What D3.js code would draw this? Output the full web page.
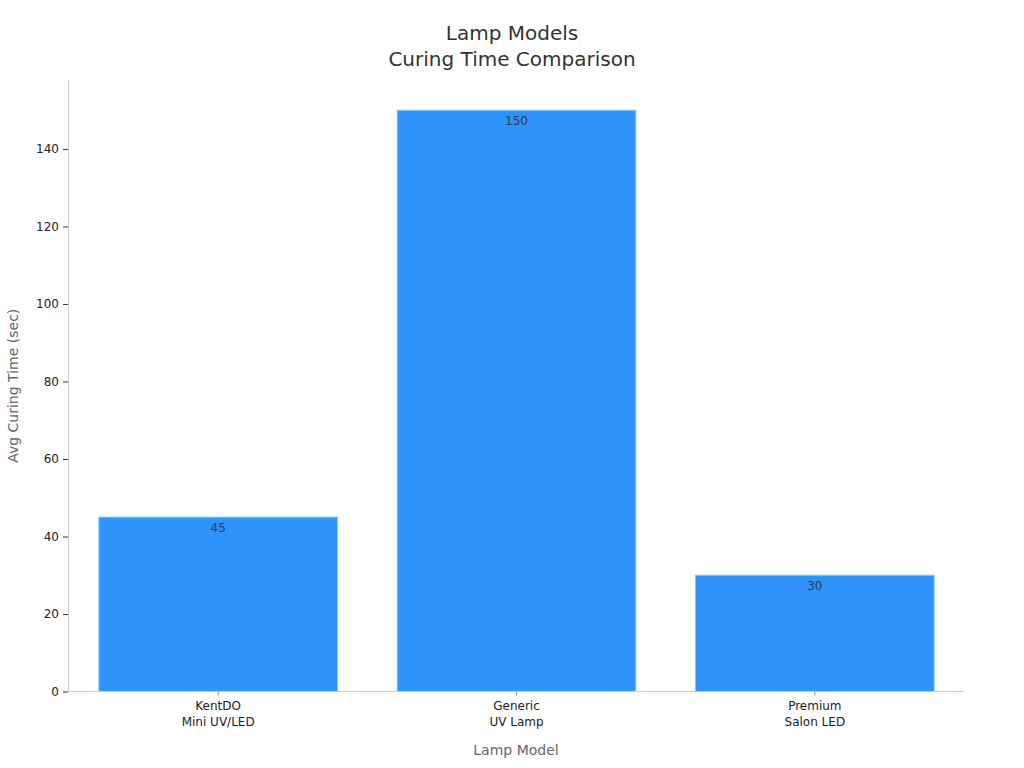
<!DOCTYPE html>
<html>
<head>
<meta charset="utf-8">
<script src="https://d3js.org/d3.v7.min.js"></script>
<style>
  body { margin: 0; background: #fff; font-family: "DejaVu Sans", sans-serif; }
  svg text { font-family: "DejaVu Sans", sans-serif; }
</style>
</head>
<body>
<svg id="chart" width="1024" height="768"></svg>
<script>
// chart data
var models = ["KentDO\nMini UV/LED", "Generic\nUV Lamp", "Premium\nSalon LED"];
var cureTimes = [45, 150, 30];
var yTicks = [0, 20, 40, 60, 80, 100, 120, 140];

var svg = d3.select("#chart");
// plot edges (note: "top" is reserved on window, so use other names)
var plotLeft = 68, plotRight = 964, plotTop = 80, plotBottom = 691.5;

var x = d3.scaleBand().domain(models).range([plotLeft + 1, plotRight]).paddingInner(0.2).paddingOuter(0.1);
var y = d3.scaleLinear().domain([0, 157.8]).range([plotBottom, plotTop]);

// title
svg.append("text").attr("x", 512).attr("y", 40).attr("text-anchor", "middle")
  .attr("font-size", 20).attr("fill", "#333").text("Lamp Models");
svg.append("text").attr("x", 512).attr("y", 66).attr("text-anchor", "middle")
  .attr("font-size", 20).attr("fill", "#333").text("Curing Time Comparison");

// bars
svg.append("g").selectAll("rect")
  .data(models)
  .enter().append("rect")
    .attr("x", function(d) { return x(d); })
    .attr("y", function(d, i) { return y(cureTimes[i]); })
    .attr("width", x.bandwidth())
    .attr("height", function(d, i) { return y(0) - y(cureTimes[i]); })
    .attr("fill", "#2E93FA")
    .attr("stroke", "#8cc4fb")
    .attr("stroke-width", 1);

// value labels
svg.append("g").selectAll("text")
  .data(models)
  .enter().append("text")
    .attr("x", function(d) { return x(d) + x.bandwidth() / 2; })
    .attr("y", function(d, i) { return y(cureTimes[i]) + 15; })
    .attr("text-anchor", "middle")
    .attr("font-size", 12)
    .attr("fill", "#2b3a4f")
    .text(function(d, i) { return cureTimes[i]; });

// y axis
var yAxis = svg.append("g").attr("transform", "translate(" + plotLeft + ",0)")
  .call(d3.axisLeft(y).tickValues(yTicks).tickSize(5).tickPadding(4));
yAxis.select(".domain").attr("stroke", "#ccc").attr("d", "M0.5," + plotTop + "V" + plotBottom);
yAxis.selectAll(".tick line").attr("stroke", "#333");
yAxis.selectAll(".tick text").attr("font-size", 12).attr("fill", "#222");

// x axis
var xAxis = svg.append("g").attr("transform", "translate(0," + plotBottom + ")")
  .call(d3.axisBottom(x).tickSize(4).tickPadding(6));
xAxis.select(".domain").attr("stroke", "#ccc").attr("d", "M" + plotLeft + ",0H" + plotRight);
xAxis.selectAll(".tick line").attr("stroke", "#888");
xAxis.selectAll(".tick text").attr("font-size", 12).attr("fill", "#222")
  .each(function(d) {
    var t = d3.select(this);
    var lines = d.split("\n");
    t.text(null);
    lines.forEach(function(line, i) {
      t.append("tspan").attr("x", 0).attr("dy", i === 0 ? "0.71em" : "1.3em").text(line);
    });
  });

// axis titles
svg.append("text").attr("x", (plotLeft + plotRight) / 2).attr("y", 755).attr("text-anchor", "middle")
  .attr("font-size", 14).attr("fill", "#666").text("Lamp Model");
svg.append("text").attr("transform", "translate(18," + ((plotTop + plotBottom) / 2) + ") rotate(-90)")
  .attr("text-anchor", "middle").attr("font-size", 14).attr("fill", "#666")
  .text("Avg Curing Time (sec)");
</script>
</body>
</html>
